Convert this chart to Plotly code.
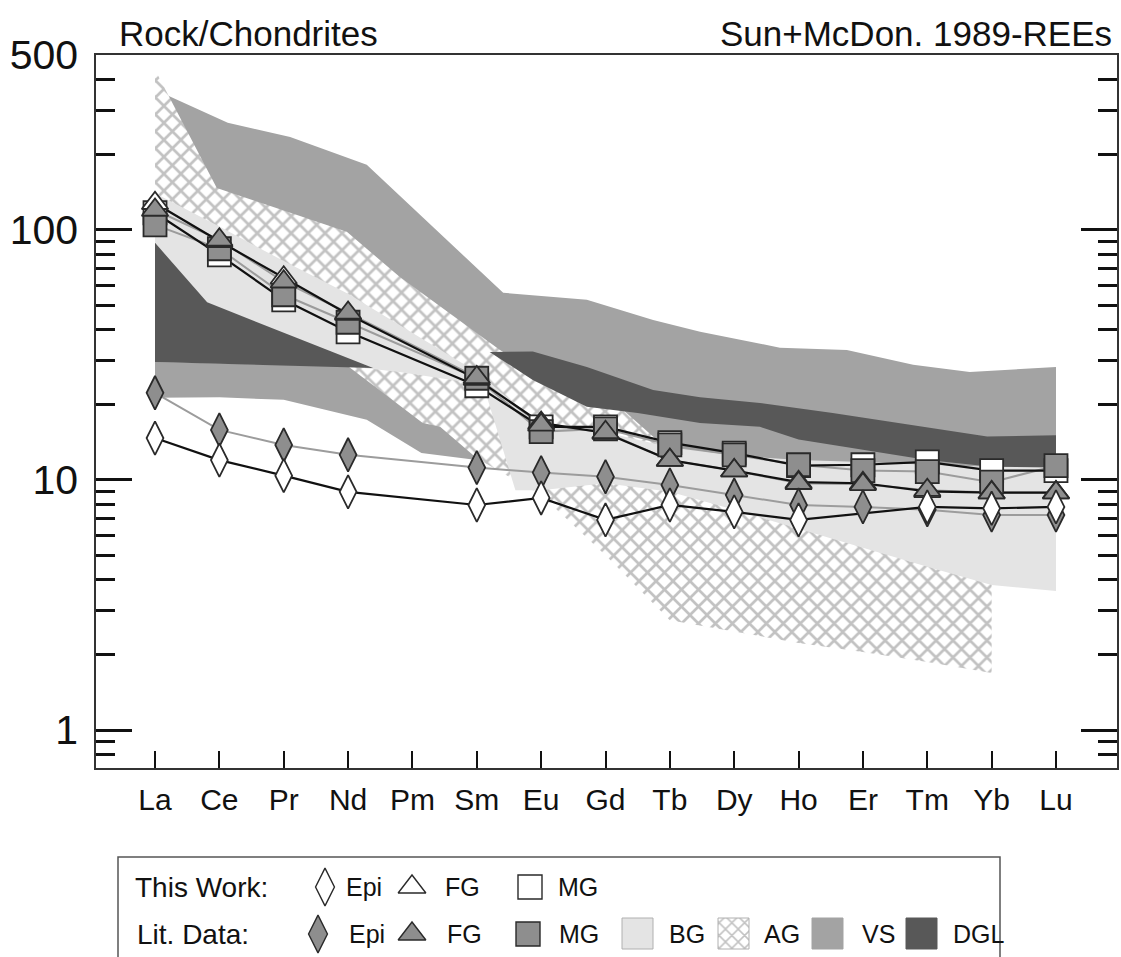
import math
import plotly.graph_objects as go

# ---------------- data ----------------
ELEMENTS = ["La", "Ce", "Pr", "Nd", "Pm", "Sm", "Eu", "Gd", "Tb", "Dy", "Ho", "Er", "Tm", "Yb", "Lu"]
POS = list(range(len(ELEMENTS)))

# This work (white symbols, black lines)
TW_EPI = [14.7, 12.0, 10.4, 8.96, None, 7.94, 8.47, 6.92, 7.94, 7.45, 6.92, None, 7.8, 7.7, 7.8]
TW_FG = [127.7, 90.0, 64.3, 46.0, None, 25.3, 16.9, 15.4, 12.0, 10.9, 9.8, 9.7, 9.0, 8.9, 8.9]
TW_MG = [117.0, 79.4, 52.5, 39.1, None, 23.8, 16.3, 16.3, 14.1, 12.8, 11.4, 11.5, 11.8, 10.9, 10.9]

# Literature data (grey symbols, grey lines)
LIT_EPI = [22.3, 15.85, 13.8, 12.6, None, 11.2, 10.7, 10.3, 9.55, 8.7, 7.94, 7.8, 7.6, 7.24, 7.24]
LIT_FG = [120.0, 91.2, 62.0, 46.5, None, 25.7, 16.6, 15.5, 12.0, 10.9, 9.7, 9.6, 9.1, 8.9, 8.9]
LIT_MG = [104.7, 84.0, 55.0, 42.7, None, 25.5, 15.6, 16.0, 13.8, 12.6, 11.5, 10.9, 10.8, 9.8, 11.4]

# Envelopes (x in element-index units, values normalised to chondrite)
VS_TOP_X = [0, 1.13, 2.1, 3.29, 5.41, 6.71, 7.74, 8.47, 9.71, 10.75, 11.78, 12.66, 14]
VS_TOP = [363, 268, 235, 182, 56, 52.5, 43.6, 39.1, 33.8, 33.1, 28.9, 27.0, 28.3]
VS_BOT_X = [0, 1, 2, 3.29, 4.14, 5, 6, 7, 8, 9, 10, 11, 12, 13, 14]
VS_BOT = [21.3, 21.4, 20.9, 17.4, 12.8, 12.0, 12.0, 12.0, 11.0, 10.5, 10.0, 10.0, 10.0, 10.0, 10.0]

AG_TOP_X = [0, 0.96, 2.98, 3.8, 5.36, 6, 7, 8, 9, 10, 11, 12, 13]
AG_TOP = [437, 147, 98.2, 64.9, 33.1, 26, 22, 13, 12, 11.5, 11, 10.5, 10]
AG_BOT_X = [0, 1, 2, 3, 4.16, 4.43, 5, 6, 7, 8, 9, 10, 11, 12, 13]
AG_BOT = [30, 30, 29.5, 28.5, 16.9, 16.3, 12.2, 8.7, 5.0, 2.75, 2.47, 2.23, 2.05, 1.87, 1.69]

BG_TOP_X = [0, 1, 2, 3, 5, 6, 7, 8, 9, 10, 11, 12, 13, 14]
BG_TOP = [140, 103, 75, 55.5, 27, 16.5, 15.5, 13.5, 12.5, 12, 11.8, 11.5, 11.3, 11.5]
BG_BOT_X = [0, 3, 3.8, 5.1, 5.6, 6, 7, 8, 9, 10, 11, 12, 13, 14]
BG_BOT = [29.6, 28.5, 27, 24, 9.1, 9.1, 9.7, 8.96, 7.6, 6.4, 5.35, 4.5, 3.8, 3.6]

DGL1_TOP_X = [0, 0.81, 3.39]
DGL1_TOP = [88.7, 51.3, 28.0]
DGL1_BOT_X = [0, 3.39]
DGL1_BOT = [29.6, 28.0]
DGL2_TOP_X = [5.2, 5.87, 6.71, 7.74, 8.47, 9.4, 10.53, 12.93, 14]
DGL2_TOP = [32.5, 32.6, 28.3, 22.9, 21.4, 20.3, 18.5, 14.9, 15.1]
DGL2_BOT_X = [5.2, 5.87, 6.71, 7.5, 8.47, 9.4, 10, 11, 12, 13, 14]
DGL2_BOT = [32.5, 25.1, 19.6, 18.5, 16.9, 16.3, 14.5, 13.2, 12.0, 11.3, 11.2]

Y_TICKS = [1, 10, 100, 500]
Y_MINOR = [0.8, 0.9, 2, 3, 4, 5, 6, 7, 8, 9, 20, 30, 40, 50, 60, 70, 80, 90, 200, 300, 400]
TOP_TICKS = [5, 6, 7, 8, 9, 10, 11, 12]

# ---------------- styles ----------------
FONT = "Liberation Sans, Arial, sans-serif"
C_VS = "#a3a3a3"
C_DGL = "#585858"
C_BG = "#e4e4e4"
C_GREY = "#8e8e8e"
C_EDGE = "#2a2a2a"
C_LITLINE = "#9c9c9c"
AG_PATTERN = dict(shape="x", fgcolor="#858585", bgcolor="white", size=12, solidity=0.4)

W, H = 1121, 957
PX_L, PX_R, PX_T, PX_B = 96, 1117, 55, 768
XR = [-0.917, 14.948]
YR = [math.log10(0.705), math.log10(500)]


def band(top_x, top, bot_x, bot):
    return list(top_x) + list(reversed(bot_x)), list(top) + list(reversed(bot))


fig = go.Figure()

# VS envelope
bx, by = band(VS_TOP_X, VS_TOP, VS_BOT_X, VS_BOT)
fig.add_trace(go.Scatter(x=bx, y=by, fill="toself", fillcolor=C_VS, line=dict(width=0),
                         mode="lines", hoverinfo="skip", showlegend=False))
# AG envelope (patterned)
bx, by = band(AG_TOP_X, AG_TOP, AG_BOT_X, AG_BOT)
fig.add_trace(go.Scatter(x=bx, y=by, fill="toself", fillcolor="white", fillpattern=AG_PATTERN,
                         line=dict(width=0), mode="lines", hoverinfo="skip", showlegend=False))
# BG envelope
bx, by = band(BG_TOP_X, BG_TOP, BG_BOT_X, BG_BOT)
fig.add_trace(go.Scatter(x=bx, y=by, fill="toself", fillcolor=C_BG, line=dict(width=0),
                         mode="lines", hoverinfo="skip", showlegend=False))
# DGL envelope (two parts)
b1x, b1y = band(DGL1_TOP_X, DGL1_TOP, DGL1_BOT_X, DGL1_BOT)
b2x, b2y = band(DGL2_TOP_X, DGL2_TOP, DGL2_BOT_X, DGL2_BOT)
fig.add_trace(go.Scatter(x=b1x + [None] + b2x, y=b1y + [None] + b2y, fill="toself", fillcolor=C_DGL,
                         line=dict(width=0), mode="lines", hoverinfo="skip", showlegend=False))

# lines
for vals, col, wd in [(LIT_EPI, C_LITLINE, 2), (LIT_FG, C_LITLINE, 2), (LIT_MG, C_LITLINE, 2),
                      (TW_EPI, "#111111", 2.2), (TW_FG, "#111111", 2.2), (TW_MG, "#111111", 2.2)]:
    fig.add_trace(go.Scatter(x=POS, y=vals, mode="lines", connectgaps=True,
                             line=dict(color=col, width=wd), hoverinfo="skip", showlegend=False))

# markers
for vals, sym, size, fc in [(TW_MG, "square", 23, "white"), (LIT_MG, "square", 23, C_GREY),
                            (TW_FG, "triangle-up", 23, "white"), (LIT_FG, "triangle-up", 23, C_GREY),
                            (LIT_EPI, "diamond-tall", 24, C_GREY), (TW_EPI, "diamond-tall", 24, "white")]:
    fig.add_trace(go.Scatter(x=POS, y=vals, mode="markers",
                             marker=dict(symbol=sym, size=size, color=fc, line=dict(color=C_EDGE, width=1.8)),
                             hoverinfo="skip", showlegend=False))

# ---------------- legend (drawn on a pixel-space overlay axis) ----------------
LEG_ROW1, LEG_ROW2 = 887, 934
LEG_SYMBOLS = [  # (x, y, symbol, size, colour)
    (325, LEG_ROW1, "diamond-tall", 27, "white"), (412, LEG_ROW1, "triangle-up", 24, "white"),
    (530, LEG_ROW1, "square", 24, "white"),
    (318, LEG_ROW2, "diamond-tall", 27, C_GREY), (412, LEG_ROW2, "triangle-up", 24, C_GREY),
    (528, LEG_ROW2, "square", 24, C_GREY),
]
for lx, ly, sym, sz, fc in LEG_SYMBOLS:
    fig.add_trace(go.Scatter(x=[lx], y=[ly], mode="markers", xaxis="x3", yaxis="y3",
                             marker=dict(symbol=sym, size=sz, color=fc, line=dict(color=C_EDGE, width=1.4)),
                             hoverinfo="skip", showlegend=False))

LEG_SWATCHES = [(622, "BG", C_BG, None), (718, "AG", "white", "x"), (812, "VS", C_VS, None), (906, "DGL", C_DGL, None)]
for sx, name, col, pat in LEG_SWATCHES:
    kw = {}
    if pat:
        kw["fillpattern"] = dict(shape=pat, fgcolor="#858585", bgcolor="white", size=9, solidity=0.32)
    fig.add_trace(go.Scatter(x=[sx, sx + 31, sx + 31, sx, sx], y=[LEG_ROW2 - 16, LEG_ROW2 - 16, LEG_ROW2 + 15, LEG_ROW2 + 15, LEG_ROW2 - 16],
                             xaxis="x3", yaxis="y3", mode="lines", fill="toself", fillcolor=col,
                             line=dict(color="#b0b0b0" if name in ("BG", "AG") else col, width=1),
                             hoverinfo="skip", showlegend=False, **kw))

LEG_TEXT = [  # (x, y, text, font size)
    (133, LEG_ROW1, "This Work:", 28), (344, LEG_ROW1, "Epi", 25), (443, LEG_ROW1, "FG", 25), (556, LEG_ROW1, "MG", 25),
    (135, LEG_ROW2, "Lit. Data:", 28), (347, LEG_ROW2, "Epi", 25), (445, LEG_ROW2, "FG", 25), (557, LEG_ROW2, "MG", 25),
    (667, LEG_ROW2, "BG", 25), (762, LEG_ROW2, "AG", 25), (860, LEG_ROW2, "VS", 25), (951, LEG_ROW2, "DGL", 25),
]
annotations = [dict(x=tx, y=ty, xref="x3", yref="y3", text=t, showarrow=False, xanchor="left", yanchor="middle",
                    font=dict(family=FONT, size=fs, color="#111")) for tx, ty, t, fs in LEG_TEXT]
annotations += [
    dict(x=117, y=33, xref="x3", yref="y3", text="Rock/Chondrites", showarrow=False, xanchor="left",
         yanchor="middle", font=dict(family=FONT, size=35, color="#111")),
    dict(x=1114, y=33, xref="x3", yref="y3", text="Sun+McDon. 1989-REEs", showarrow=False, xanchor="right",
         yanchor="middle", font=dict(family=FONT, size=35, color="#111")),
]

shapes = [dict(type="rect", xref="x3", yref="y3", x0=118, x1=1000, y0=857, y1=970,
               line=dict(color="#555", width=1.5), fillcolor="rgba(0,0,0,0)", layer="below")]

dom_x = [PX_L / W, PX_R / W]
dom_y = [(H - PX_B) / H, (H - PX_T) / H]

fig.update_layout(
    width=W, height=H, margin=dict(l=0, r=0, t=0, b=0, pad=0, autoexpand=False),
    paper_bgcolor="white", plot_bgcolor="rgba(0,0,0,0)",
    font=dict(family=FONT, color="#111"),
    showlegend=False,
    annotations=annotations, shapes=shapes,
    xaxis=dict(domain=dom_x, range=XR, tickvals=POS, ticktext=ELEMENTS, ticks="inside", ticklen=17,
               tickwidth=2, tickcolor="#111", showline=True, linecolor="#333", linewidth=1.5, mirror=True,
               showgrid=False, zeroline=False, tickfont=dict(size=30, family=FONT, color="#111"),
               ticklabelstandoff=4, anchor="y", automargin=False),
    xaxis2=dict(overlaying="x", side="top", range=XR, tickvals=TOP_TICKS, ticks="inside", ticklen=16,
                tickwidth=2, tickcolor="#111", showticklabels=False, showline=False, showgrid=False,
                zeroline=False, anchor="y", automargin=False),
    yaxis=dict(domain=dom_y, type="log", range=YR, tickvals=Y_TICKS, ticktext=[str(v) for v in Y_TICKS],
               ticks="inside", ticklen=36, tickwidth=3, tickcolor="#111", showline=True, linecolor="#333",
               linewidth=1.5, mirror="ticks", showgrid=False, zeroline=False,
               minor=dict(tickvals=Y_MINOR, ticks="inside", ticklen=19, tickwidth=3, tickcolor="#111", showgrid=False),
               tickfont=dict(size=41, family=FONT, color="#111"), ticklabelstandoff=8, anchor="x",
               automargin=False),
    xaxis3=dict(domain=[0, 1], range=[0, W], visible=False, anchor="y3", fixedrange=True, automargin=False),
    yaxis3=dict(domain=[0, 1], range=[H, 0], visible=False, anchor="x3", fixedrange=True, automargin=False),
)

fig.write_html("out.html")
